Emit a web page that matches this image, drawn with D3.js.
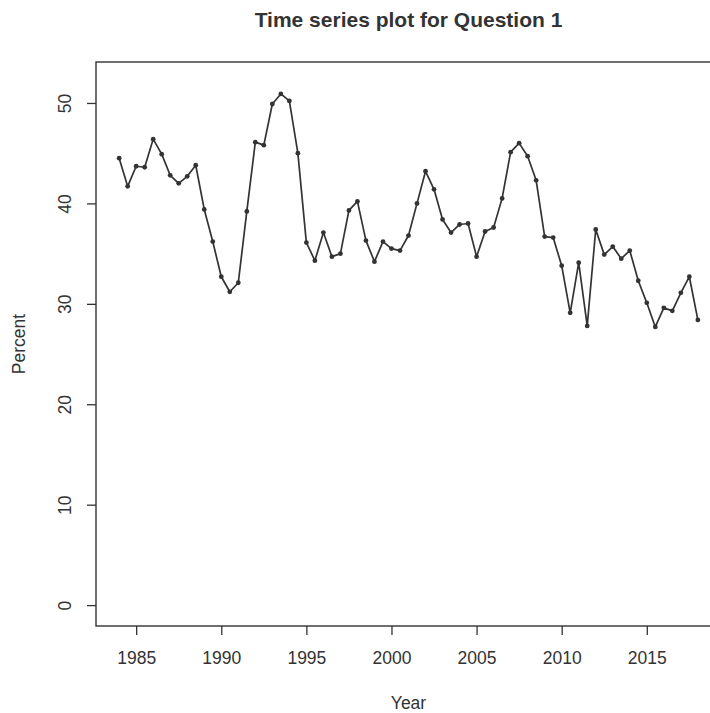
<!DOCTYPE html>
<html>
<head>
<meta charset="utf-8">
<script src="https://cdn.jsdelivr.net/npm/d3@7"></script>
<style>
  body { margin: 0; background: #fff; }
  svg { font-family: "Liberation Sans", Arial, Helvetica, sans-serif; }
</style>
</head>
<body>
<div id="chart"></div>
<script>
// Semi-annual series, 1984.0 .. 2018.0
var startYear = 1984;
var step = 0.5;
var percent = [
  44.5, 41.7, 43.7, 43.6, 46.4, 44.9, 42.8, 42.0, 42.7, 43.8,
  39.4, 36.2, 32.7, 31.2, 32.1, 39.2, 46.1, 45.8, 49.9, 50.9,
  50.2, 45.0, 36.1, 34.3, 37.1, 34.7, 35.0, 39.3, 40.2, 36.3,
  34.2, 36.2, 35.5, 35.3, 36.8, 40.0, 43.2, 41.4, 38.4, 37.1,
  37.9, 38.0, 34.7, 37.2, 37.6, 40.5, 45.1, 46.0, 44.7, 42.3,
  36.7, 36.6, 33.8, 29.1, 34.1, 27.8, 37.4, 34.9, 35.7, 34.5,
  35.3, 32.3, 30.1, 27.7, 29.6, 29.3, 31.1, 32.7, 28.4
];
var xTicks = [1985, 1990, 1995, 2000, 2005, 2010, 2015];
var yTicks = [0, 10, 20, 30, 40, 50];
var titleText = "Time series plot for Question 1";
var xLabel = "Year";
var yLabel = "Percent";

var data = percent.map(function(v, i) {
  return {year: startYear + i * step, value: v};
});

var W = 710, H = 713;
var box = {left: 96, top: 62, right: 721, bottom: 626};
var ink = "#333";

var svg = d3.select("#chart").append("svg")
  .attr("width", W)
  .attr("height", H);

// R-style 4% padding around the data range
var xr = d3.extent(data, function(d) { return d.year; });
var xpad = (xr[1] - xr[0]) * 0.04;
var x = d3.scaleLinear()
  .domain([xr[0] - xpad, xr[1] + xpad])
  .range([box.left, box.right]);

var ypad = 52 * 0.04;
var y = d3.scaleLinear()
  .domain([0 - ypad, 52 + ypad])
  .range([box.bottom, box.top]);

// plot frame
svg.append("rect")
  .attr("x", box.left)
  .attr("y", box.top)
  .attr("width", box.right - box.left)
  .attr("height", box.bottom - box.top)
  .attr("fill", "none")
  .attr("stroke", ink)
  .attr("stroke-width", 1.4);

// x axis
var xAxis = svg.append("g")
  .attr("transform", "translate(0," + box.bottom + ")")
  .call(d3.axisBottom(x).tickValues(xTicks).tickFormat(d3.format("d")).tickSize(9).tickPadding(17));
xAxis.select(".domain").remove();
xAxis.selectAll("line").attr("stroke", ink).attr("stroke-width", 1.3);
xAxis.selectAll("text")
  .attr("fill", ink)
  .attr("font-size", 17.5)
  .attr("font-family", "Liberation Sans, Arial, sans-serif");

// y axis with rotated labels
var yAxis = svg.append("g")
  .attr("transform", "translate(" + box.left + ",0)")
  .call(d3.axisLeft(y).tickValues(yTicks).tickSize(9).tickFormat(d3.format("d")));
yAxis.select(".domain").remove();
yAxis.selectAll("line").attr("stroke", ink).attr("stroke-width", 1.3);
yAxis.selectAll("text")
  .attr("fill", ink)
  .attr("font-size", 17.5)
  .attr("font-family", "Liberation Sans, Arial, sans-serif")
  .attr("x", null)
  .attr("dy", null)
  .attr("text-anchor", "middle")
  .attr("transform", "translate(-25,0) rotate(-90)");

// series line + points
var line = d3.line()
  .x(function(d) { return x(d.year); })
  .y(function(d) { return y(d.value); });

svg.append("path")
  .datum(data)
  .attr("d", line)
  .attr("fill", "none")
  .attr("stroke", ink)
  .attr("stroke-width", 1.7)
  .attr("stroke-linejoin", "round");

svg.append("g")
  .selectAll("circle")
  .data(data)
  .join("circle")
  .attr("cx", function(d) { return x(d.year); })
  .attr("cy", function(d) { return y(d.value); })
  .attr("r", 2.4)
  .attr("fill", ink);

// titles
var midX = (box.left + box.right) / 2;
svg.append("text")
  .attr("x", midX)
  .attr("y", 27)
  .attr("text-anchor", "middle")
  .attr("font-size", 21)
  .attr("font-weight", "bold")
  .attr("fill", ink)
  .text(titleText);

svg.append("text")
  .attr("x", midX)
  .attr("y", 709)
  .attr("text-anchor", "middle")
  .attr("font-size", 17.5)
  .attr("fill", ink)
  .text(xLabel);

svg.append("text")
  .attr("transform", "translate(25," + ((box.top + box.bottom) / 2) + ") rotate(-90)")
  .attr("text-anchor", "middle")
  .attr("font-size", 17.5)
  .attr("fill", ink)
  .text(yLabel);
</script>
</body>
</html>
